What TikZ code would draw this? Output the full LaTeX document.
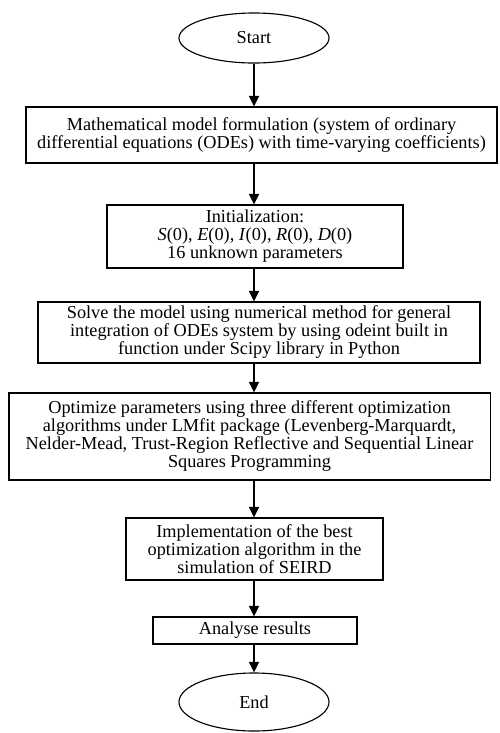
\documentclass[tikz,border=0pt]{standalone}
\usepackage{fontspec}
\setmainfont{Liberation Serif}
\usepackage{tikz}
\usetikzlibrary{arrows.meta, shapes.geometric}

\begin{document}
\begin{tikzpicture}[x=0.025cm, y=-0.025cm,
  blk/.style={draw, line width=0.8pt, align=center, inner sep=0pt,
    font=\fontsize{13}{12.8}\selectfont},
  oval/.style={ellipse, draw, line width=0.8pt, inner sep=0pt,
    minimum width=3.75cm, font=\fontsize{13}{12.8}\selectfont},
  arr/.style={line width=1.4pt, -{Triangle[length=7.5pt, width=7pt]}}]
\useasboundingbox (0,0) rectangle (500,733);
% terminals
\node[oval, minimum height=1.25cm] (start) at (254,38) {Start};
\node[oval, minimum height=1.45cm] (end) at (254,702) {End};
% process steps
\node[blk, minimum width=11.775cm, minimum height=1.4cm] (model) at (261.5,135)
  {Mathematical model formulation (system of ordinary\\
   differential equations (ODEs) with time-varying coefficients)};
\node[blk, minimum width=7.4cm, minimum height=1.575cm] (init) at (255,236.5)
  {Initialization:\\
   \textit{S}(0), \textit{E}(0), \textit{I}(0), \textit{R}(0), \textit{D}(0)\\
   16 unknown parameters};
\node[blk, minimum width=11.05cm, minimum height=1.525cm] (solve) at (259,332.5)
  {Solve the model using numerical method for general\\
   integration of ODEs system by using odeint built in\\
   function under Scipy library in Python};
\node[blk, minimum width=12.025cm, minimum height=2.175cm] (optim) at (249.5,436.5)
  {Optimize parameters using three different optimization\\
   algorithms under LMfit package (Levenberg-Marquardt,\\
   Nelder-Mead, Trust-Region Reflective and Sequential Linear\\
   Squares Programming};
\node[blk, minimum width=6.425cm, minimum height=1.55cm] (impl) at (254.5,549)
  {Implementation of the best\\
   optimization algorithm in the\\
   simulation of SEIRD};
\node[blk, minimum width=5.1cm, minimum height=0.675cm] (analyse) at (255,630.5)
  {Analyse results};
% connectors
\draw[arr] (start) -- (start |- model.north);
\draw[arr] (start |- model.south) -- (start |- init.north);
\draw[arr] (start |- init.south) -- (start |- solve.north);
\draw[arr] (start |- solve.south) -- (start |- optim.north);
\draw[arr] (start |- optim.south) -- (start |- impl.north);
\draw[arr] (start |- impl.south) -- (start |- analyse.north);
\draw[arr] (start |- analyse.south) -- (end);
\end{tikzpicture}
\end{document}
